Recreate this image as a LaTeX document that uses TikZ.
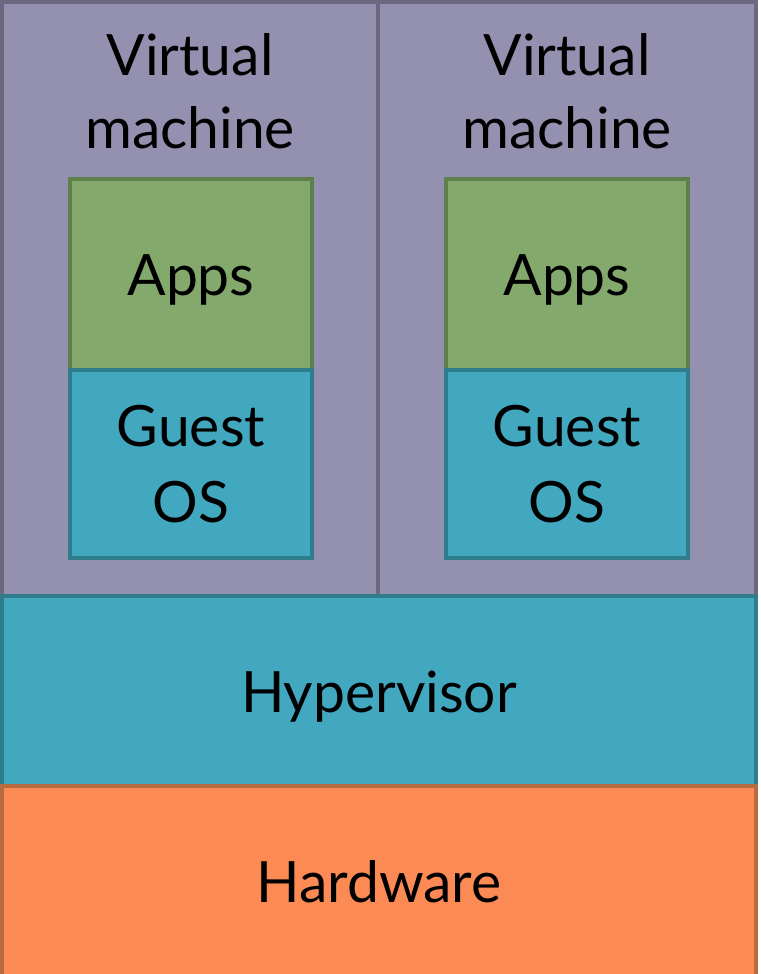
\documentclass[tikz,border=0pt]{standalone}
\usepackage{fontspec}
\setmainfont{Lato}
\definecolor{vmfill}{HTML}{9490AF}
\definecolor{vmline}{HTML}{6C6880}
\definecolor{appfill}{HTML}{84A96C}
\definecolor{appline}{HTML}{5E7F4C}
\definecolor{osfill}{HTML}{42A8BF}
\definecolor{osline}{HTML}{2F7C8C}
\definecolor{hwfill}{HTML}{FB8A55}
\definecolor{hwline}{HTML}{B86A40}
\tikzset{
  layer/.style={rectangle, inner sep=0pt, line width=3.5pt},
  vmbox/.style={layer, draw=vmline, fill=vmfill},
  appbox/.style={layer, draw=appline, fill=appfill},
  osbox/.style={layer, draw=osline, fill=osfill},
  hwbox/.style={layer, draw=hwline, fill=hwfill},
  lbl/.style={font=\fontsize{57}{72}\selectfont, inner sep=0pt, anchor=base}
}
\begin{document}
\begin{tikzpicture}[x=1pt,y=-1pt]
\useasboundingbox (0,0) rectangle (760,974);
\node[vmbox, minimum width=376pt, minimum height=594pt] (vm1) at (190,299) {};
\node[vmbox, minimum width=378pt, minimum height=594pt] (vm2) at (567,299) {};
\node[appbox, minimum width=242pt, minimum height=191pt] (app1) at (191,274.5) {};
\node[osbox, minimum width=242pt, minimum height=188pt] (os1) at (191,464) {};
\node[appbox, minimum width=242pt, minimum height=191pt] (app2) at (567,274.5) {};
\node[osbox, minimum width=242pt, minimum height=188pt] (os2) at (567,464) {};
\node[osbox, minimum width=754pt, minimum height=190pt] (hyp) at (379,691) {};
\node[hwbox, minimum width=754pt, minimum height=190pt] (hw) at (379,881) {};
% labels
\node[lbl] (vm1a) at (190,75) {Virtual};
\node[lbl] (vm1b) at (190,148) {machine};
\node[lbl] (vm2a) at (567,75) {Virtual};
\node[lbl] (vm2b) at (567,148) {machine};
\node[lbl] (app1t) at (191,295) {Apps};
\node[lbl] (app2t) at (567,295) {Apps};
\node[lbl] (os1a) at (191,446) {Guest};
\node[lbl] (os1b) at (191,522) {OS};
\node[lbl] (os2a) at (567,446) {Guest};
\node[lbl] (os2b) at (567,522) {OS};
\node[lbl] (hypt) at (379,712) {Hypervisor};
\node[lbl] (hwt) at (379,902) {Hardware};
\end{tikzpicture}
\end{document}
